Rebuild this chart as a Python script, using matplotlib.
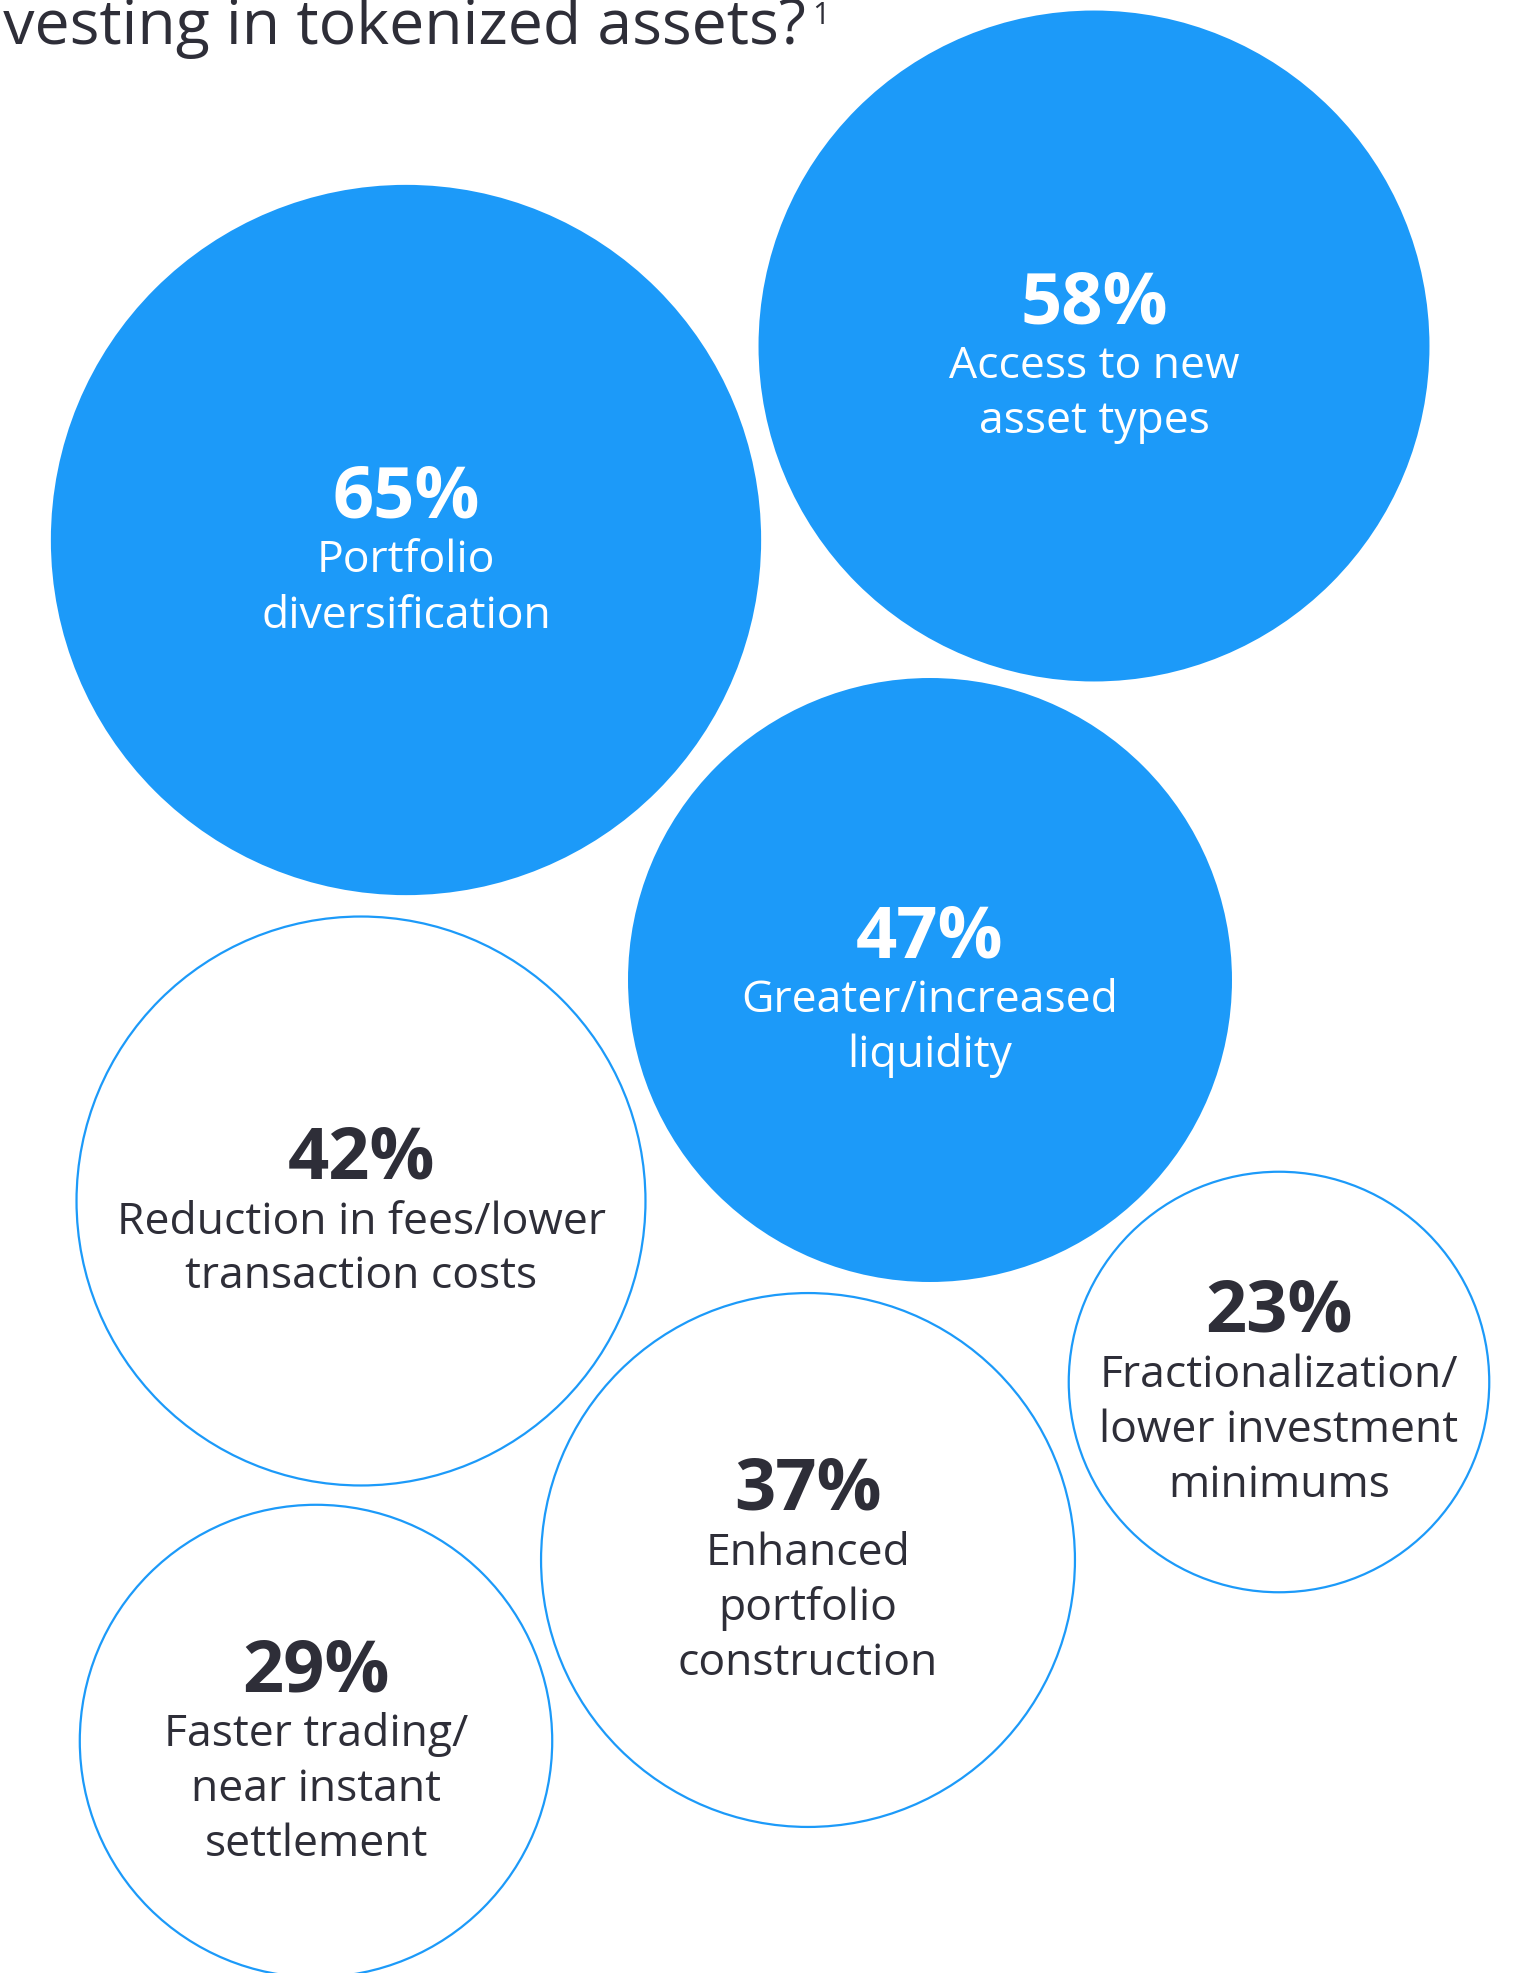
import matplotlib.pyplot as plt
from matplotlib.patches import Circle
import numpy as np

# survey results (share of respondents)
values = [65, 58, 47, 42, 37, 29, 23]
labels = [
    "Portfolio\ndiversification",
    "Access to new\nasset types",
    "Greater/increased\nliquidity",
    "Reduction in fees/lower\ntransaction costs",
    "Enhanced\nportfolio\nconstruction",
    "Faster trading/\nnear instant\nsettlement",
    "Fractionalization/\nlower investment\nminimums",
]
highlighted = [True, True, True, False, False, False, False]

# bubble centres in pixel space (layout only)
centres = [(406, 541), (1094, 347), (930, 981), (361, 1202),
           (808, 1561), (316, 1742), (1279, 1383)]

W, H = 1521, 1974
blue = "#1C9AF9"
dark = "#2E2E38"
plt.rcParams['font.family'] = ['Open Sans', 'DejaVu Sans']

fig = plt.figure(figsize=(W / 100, H / 100), dpi=100)
ax = fig.add_axes([0, 0, 1, 1])
ax.set_xlim(0, W)
ax.set_ylim(H, 0)
ax.set_aspect('equal')
ax.axis('off')

# radius proportional to sqrt of value (area encoding)
scale = 44.05
line_gap = 55
cap = 57

for v, lab, hi, (cx, cy) in zip(values, labels, highlighted, centres):
    r = scale * np.sqrt(v)
    if hi:
        ax.add_patch(Circle((cx, cy), r, facecolor=blue, edgecolor='none'))
        tc = 'white'
    else:
        ax.add_patch(Circle((cx, cy), r - 1, facecolor='white', edgecolor=blue, linewidth=1.6))
        tc = dark
    lines = lab.split("\n")
    total = cap + line_gap * len(lines)
    b0 = cy - total / 2 + cap + 3
    ax.text(cx, b0, f"{v}%", ha='center', va='baseline', fontsize=52,
            fontweight='bold', color=tc)
    for k, ln in enumerate(lines):
        ax.text(cx, b0 + line_gap * (k + 1), ln, ha='center', va='baseline',
                fontsize=32, color=tc)

# title is cropped at the left edge, as in the source
ax.text(806, 44, "Why are you interested in investing in tokenized assets?", ha='right',
        va='baseline', fontsize=45, fontweight='medium', color=dark)
ax.text(812, 24, "1", ha='left', va='baseline', fontsize=22, color=dark)

fig.savefig('out.png', dpi=100)
